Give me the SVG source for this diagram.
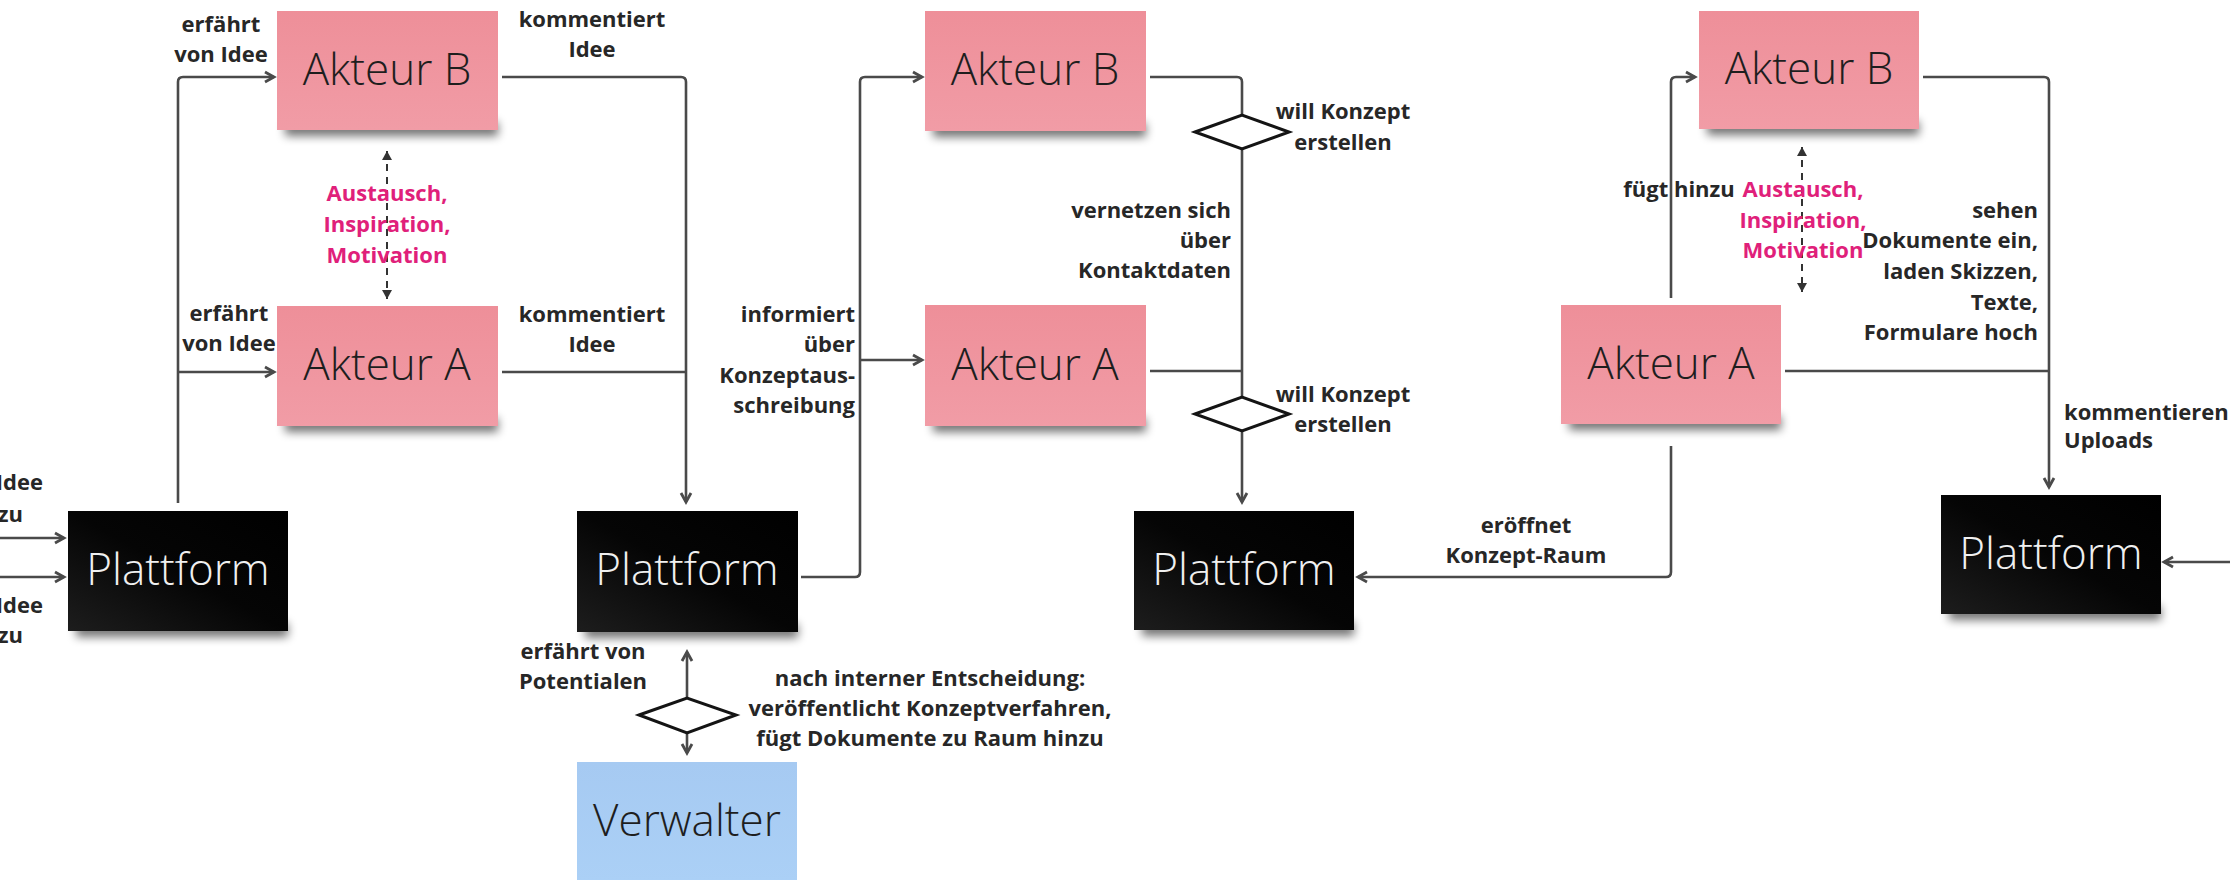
<svg xmlns="http://www.w3.org/2000/svg" width="2230" height="880" viewBox="0 0 2230 880">
  <defs>
    <style>
      .lbl { font-family: "Open Sans", "Liberation Sans", sans-serif; font-weight: 700; font-size: 22px; fill: #272727; }
      .mid { text-anchor: middle; }
      .end { text-anchor: end; }
      .mag { fill: #e0207a; }
      .node { font-family: "Open Sans", "Liberation Sans", sans-serif; font-weight: 300; font-size: 44px; text-anchor: middle; }
      .dark { fill: #1e1e1e; }
      .light { fill: #f0f0f0; }
      .wire { fill: none; stroke: #4a4a4a; stroke-width: 2.6; }
      .dash { fill: none; stroke: #333; stroke-width: 2; stroke-dasharray: 7 6; }
      .gate { fill: #fff; stroke: #141414; stroke-width: 3; stroke-linejoin: miter; }
      .shadow { fill: #000; opacity: 0.55; filter: url(#soft); }
    </style>
    <linearGradient id="pink" x1="0" y1="0" x2="0" y2="1">
      <stop offset="0" stop-color="#ee8f99"/>
      <stop offset="1" stop-color="#f19ca6"/>
    </linearGradient>
    <linearGradient id="ink" x1="1" y1="0" x2="0" y2="1">
      <stop offset="0" stop-color="#000"/>
      <stop offset="0.5" stop-color="#050505"/>
      <stop offset="1" stop-color="#1d1d1d"/>
    </linearGradient>
    <linearGradient id="sky" x1="0" y1="0" x2="0" y2="1">
      <stop offset="0" stop-color="#a6caf2"/>
      <stop offset="1" stop-color="#abd0f6"/>
    </linearGradient>
    <filter id="soft" x="-20%" y="-100%" width="140%" height="300%">
      <feGaussianBlur stdDeviation="5"/>
    </filter>
    <marker id="arr" markerUnits="userSpaceOnUse" markerWidth="16" markerHeight="16" viewBox="-12 -8 16 16" refX="0" refY="0" orient="auto">
      <path d="M-9,-5 L0,0 L-9,5" fill="none" stroke="#4a4a4a" stroke-width="2.8" stroke-linejoin="miter"/>
    </marker>
    <marker id="tri" markerUnits="userSpaceOnUse" markerWidth="14" markerHeight="14" viewBox="-10 -7 14 14" refX="0" refY="0" orient="auto-start-reverse">
      <path d="M-9,-5 L0,0 L-9,5 Z" fill="#333"/>
    </marker>
  </defs>

  <rect width="2230" height="880" fill="#fff"/>

  <!-- connectors -->
  <g id="connectors">
    <!-- into first platform -->
    <path class="wire" d="M0,538 H64" marker-end="url(#arr)"/>
    <path class="wire" d="M0,577 H64" marker-end="url(#arr)"/>
    <!-- first platform to actors -->
    <path class="wire" d="M178,503 V82 Q178,77 183,77 H274" marker-end="url(#arr)"/>
    <path class="wire" d="M178,372 H274" marker-end="url(#arr)"/>
    <!-- comments back to second platform -->
    <path class="wire" d="M502,77 H681 Q686,77 686,82 V502" marker-end="url(#arr)"/>
    <path class="wire" d="M502,372 H686"/>
    <!-- exchange between actors -->
    <path class="dash" d="M387,151 V299" marker-start="url(#tri)" marker-end="url(#tri)"/>
    <!-- second platform to actors -->
    <path class="wire" d="M801,577 H855 Q860,577 860,572 V82 Q860,77 865,77 H922" marker-end="url(#arr)"/>
    <path class="wire" d="M860,360 H922" marker-end="url(#arr)"/>
    <!-- actors to third platform via decisions -->
    <path class="wire" d="M1150,77 H1237 Q1242,77 1242,82 V115"/>
    <path class="wire" d="M1242,149 V397"/>
    <path class="wire" d="M1150,371 H1242"/>
    <path class="wire" d="M1242,431 V502" marker-end="url(#arr)"/>
    <!-- platform / administrator decision -->
    <path class="wire" d="M687,698 V652" marker-end="url(#arr)"/>
    <path class="wire" d="M687,733 V753" marker-end="url(#arr)"/>
    <!-- right group -->
    <path class="wire" d="M1671,298 V82 Q1671,77 1676,77 H1695" marker-end="url(#arr)"/>
    <path class="dash" d="M1802,147 V292" marker-start="url(#tri)" marker-end="url(#tri)"/>
    <path class="wire" d="M1923,77 H2044 Q2049,77 2049,82 V487" marker-end="url(#arr)"/>
    <path class="wire" d="M1785,371 H2049"/>
    <path class="wire" d="M1671,446 V572 Q1671,577 1666,577 H1358" marker-end="url(#arr)"/>
    <path class="wire" d="M2230,562 H2164" marker-end="url(#arr)"/>
    <!-- decision diamonds -->
    <polygon class="gate" points="1195,132 1242,115 1289,132 1242,149"/>
    <polygon class="gate" points="1195,414 1242,397 1289,414 1242,431"/>
    <polygon class="gate" points="639,715 687,698 736,715 687,733"/>
  </g>

  <!-- connector labels -->
  <g id="labels">
    <text class="lbl end" x="43" y="490">Idee</text>
    <text class="lbl end" x="23" y="522">zu</text>
    <text class="lbl end" x="43" y="613">Idee</text>
    <text class="lbl end" x="23" y="643">zu</text>

    <text class="lbl mid" x="221" y="32">erfährt</text>
    <text class="lbl mid" x="221" y="62">von Idee</text>
    <text class="lbl mid" x="229" y="321">erfährt</text>
    <text class="lbl mid" x="229" y="351">von Idee</text>

    <text class="lbl mid" x="592" y="27">kommentiert</text>
    <text class="lbl mid" x="592" y="57">Idee</text>
    <text class="lbl mid" x="592" y="322">kommentiert</text>
    <text class="lbl mid" x="592" y="352">Idee</text>

    <text class="lbl mid mag" x="387" y="201">Austausch,</text>
    <text class="lbl mid mag" x="387" y="232">Inspiration,</text>
    <text class="lbl mid mag" x="387" y="263">Motivation</text>

    <text class="lbl mid" x="583" y="659">erfährt von</text>
    <text class="lbl mid" x="583" y="689">Potentialen</text>

    <text class="lbl mid" x="930" y="686">nach interner Entscheidung:</text>
    <text class="lbl mid" x="930" y="716">veröffentlicht Konzeptverfahren,</text>
    <text class="lbl mid" x="930" y="746">fügt Dokumente zu Raum hinzu</text>

    <text class="lbl end" x="855" y="322">informiert</text>
    <text class="lbl end" x="855" y="352">über</text>
    <text class="lbl end" x="855" y="383">Konzeptaus-</text>
    <text class="lbl end" x="855" y="413">schreibung</text>

    <text class="lbl mid" x="1343" y="119">will Konzept</text>
    <text class="lbl mid" x="1343" y="150">erstellen</text>
    <text class="lbl mid" x="1343" y="402">will Konzept</text>
    <text class="lbl mid" x="1343" y="432">erstellen</text>

    <text class="lbl end" x="1231" y="218">vernetzen sich</text>
    <text class="lbl end" x="1231" y="248">über</text>
    <text class="lbl end" x="1231" y="278">Kontaktdaten</text>

    <text class="lbl mid" x="1526" y="533">eröffnet</text>
    <text class="lbl mid" x="1526" y="563">Konzept-Raum</text>

    <text class="lbl mid" x="1679" y="197">fügt hinzu</text>

    <text class="lbl mid mag" x="1803" y="197">Austausch,</text>
    <text class="lbl mid mag" x="1803" y="228">Inspiration,</text>
    <text class="lbl mid mag" x="1803" y="258">Motivation</text>

    <text class="lbl end" x="2038" y="218">sehen</text>
    <text class="lbl end" x="2038" y="248">Dokumente ein,</text>
    <text class="lbl end" x="2038" y="279">laden Skizzen,</text>
    <text class="lbl end" x="2038" y="310">Texte,</text>
    <text class="lbl end" x="2038" y="340">Formulare hoch</text>

    <text x="2064" y="420" class="lbl">kommentieren</text>
    <text x="2064" y="448" class="lbl">Uploads</text>
  </g>

  <!-- nodes -->
  <g id="akteur-b-1">
    <rect class="shadow" x="285" y="122" width="213" height="14"/>
    <rect x="277" y="11" width="221" height="119" fill="url(#pink)"/>
    <text class="node dark" x="387" y="85">Akteur B</text>
  </g>
  <g id="akteur-a-1">
    <rect class="shadow" x="285" y="418" width="213" height="14"/>
    <rect x="277" y="306" width="221" height="120" fill="url(#pink)"/>
    <text class="node dark" x="387" y="380">Akteur A</text>
  </g>
  <g id="plattform-1">
    <rect class="shadow" x="76" y="623" width="212" height="14"/>
    <rect x="68" y="511" width="220" height="120" fill="url(#ink)"/>
    <text class="node light" x="178" y="585">Plattform</text>
  </g>
  <g id="plattform-2">
    <rect class="shadow" x="585" y="624" width="213" height="14"/>
    <rect x="577" y="511" width="221" height="121" fill="url(#ink)"/>
    <text class="node light" x="687" y="585">Plattform</text>
  </g>
  <g id="verwalter">
    <rect x="577" y="762" width="220" height="120" fill="url(#sky)"/>
    <text class="node dark" x="687" y="836">Verwalter</text>
  </g>
  <g id="akteur-b-2">
    <rect class="shadow" x="933" y="123" width="213" height="14"/>
    <rect x="925" y="11" width="221" height="120" fill="url(#pink)"/>
    <text class="node dark" x="1035" y="85">Akteur B</text>
  </g>
  <g id="akteur-a-2">
    <rect class="shadow" x="933" y="418" width="213" height="14"/>
    <rect x="925" y="305" width="221" height="121" fill="url(#pink)"/>
    <text class="node dark" x="1035" y="380">Akteur A</text>
  </g>
  <g id="plattform-3">
    <rect class="shadow" x="1142" y="622" width="212" height="14"/>
    <rect x="1134" y="511" width="220" height="119" fill="url(#ink)"/>
    <text class="node light" x="1244" y="585">Plattform</text>
  </g>
  <g id="akteur-b-3">
    <rect class="shadow" x="1707" y="121" width="212" height="14"/>
    <rect x="1699" y="11" width="220" height="118" fill="url(#pink)"/>
    <text class="node dark" x="1809" y="84">Akteur B</text>
  </g>
  <g id="akteur-a-3">
    <rect class="shadow" x="1569" y="416" width="212" height="14"/>
    <rect x="1561" y="305" width="220" height="119" fill="url(#pink)"/>
    <text class="node dark" x="1671" y="379">Akteur A</text>
  </g>
  <g id="plattform-4">
    <rect class="shadow" x="1949" y="606" width="212" height="14"/>
    <rect x="1941" y="495" width="220" height="119" fill="url(#ink)"/>
    <text class="node light" x="2051" y="569">Plattform</text>
  </g>
</svg>
